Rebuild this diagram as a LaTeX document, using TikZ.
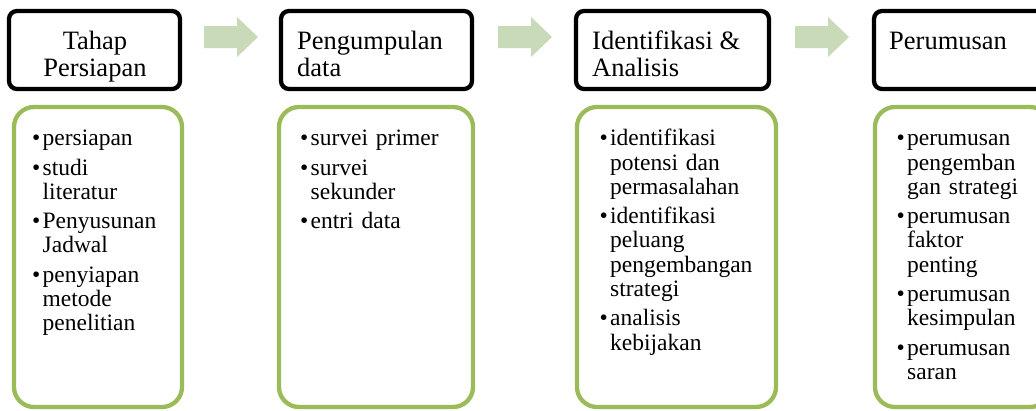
\documentclass[tikz,border=0pt]{standalone}
\usepackage{fontspec}
\setmainfont{Liberation Serif}
\definecolor{grn}{HTML}{9BBB59}
\definecolor{arrfill}{HTML}{C9DAB9}
\newcommand{\hdrfont}{\fontsize{26.5}{27.5}\selectfont}
\newcommand{\bodyfont}{\fontsize{23.5}{24.3}\selectfont}
\newcommand{\bitem}[1]{\hangindent=10.5pt\hangafter=1\noindent\strut\makebox[10.5pt][l]{\textbullet}#1\par}
\newcommand{\igap}{\vspace{5pt}}
\tikzset{
  hdrbox/.style={draw=black, line width=4.3pt, rounded corners=8pt, rectangle, inner sep=0pt},
  grnbox/.style={draw=grn, line width=4.3pt, rounded corners=20pt, rectangle, inner sep=0pt},
  hdrtext/.style={inner sep=0pt, font=\hdrfont},
  bodytext/.style={inner sep=0pt, text width=220pt, align=left, font=\bodyfont},
  arrowshape/.style={fill=arrfill, draw=none}
}
\begin{document}
\begin{tikzpicture}[x=1pt,y=-1pt]
\useasboundingbox (0,0) rectangle (1036,410);
\clip (0,0) rectangle (1036,410);
% header boxes
\node[hdrbox, minimum width=171pt, minimum height=78pt] (h1) at (94.5,50) {};
\node[hdrbox, minimum width=191pt, minimum height=78pt] (h2) at (376.5,50) {};
\node[hdrbox, minimum width=193pt, minimum height=78pt] (h3) at (672.5,50) {};
\node[hdrbox, minimum width=176pt, minimum height=78pt] (h4) at (962,50) {};
% green boxes
\node[grnbox, minimum width=168pt, minimum height=300pt] (g1) at (98,257) {};
\node[grnbox, minimum width=194pt, minimum height=300pt] (g2) at (376,257) {};
\node[grnbox, minimum width=199pt, minimum height=300pt] (g3) at (676.5,257) {};
\node[grnbox, minimum width=175pt, minimum height=300pt] (g4) at (962.5,257) {};
% arrows
\coordinate (a1) at (204,37);
\coordinate (a2) at (498,37);
\coordinate (a3) at (795,37);
\foreach \a in {a1,a2,a3}{
  \fill[arrowshape, shift={(\a)}] (0,-11) -- (33,-11) -- (33,-20) -- (54,0) -- (33,20) -- (33,11) -- (0,11) -- cycle;
}
% header texts
\node[hdrtext, align=center, anchor=north] (t1) at (95,29.75) {\strut Tahap\\Persiapan};
\node[hdrtext, align=left, anchor=north west] (t2) at (297,29.75) {\strut Pengumpulan\\data};
\node[hdrtext, align=left, anchor=north west] (t3) at (592,29.75) {\strut Identifikasi \&\\Analisis};
\node[hdrtext, align=left, anchor=north west] (t4) at (889,29.75) {\strut Perumusan};
% body texts
\node[bodytext, anchor=north west] (b1) at (32,128.5) {%
\bitem{persiapan}\igap
\bitem{studi\newline literatur}\igap
\bitem{Penyusunan\newline Jadwal}\igap
\bitem{penyiapan\newline metode\newline penelitian}};
\node[bodytext, anchor=north west] (b2) at (300,128.5) {%
\bitem{survei primer}\igap
\bitem{survei\newline sekunder}\igap
\bitem{entri data}};
\node[bodytext, anchor=north west] (b3) at (599.5,128.5) {%
\bitem{identifikasi\newline potensi dan\newline permasalahan}\igap
\bitem{identifikasi\newline peluang\newline pengembangan\newline strategi}\igap
\bitem{analisis\newline kebijakan}};
\node[bodytext, anchor=north west] (b4) at (896.5,128.5) {%
\bitem{perumusan\newline pengemban\newline gan strategi}\igap
\bitem{perumusan\newline faktor\newline penting}\igap
\bitem{perumusan\newline kesimpulan}\igap
\bitem{perumusan\newline saran}};
\end{tikzpicture}
\end{document}
